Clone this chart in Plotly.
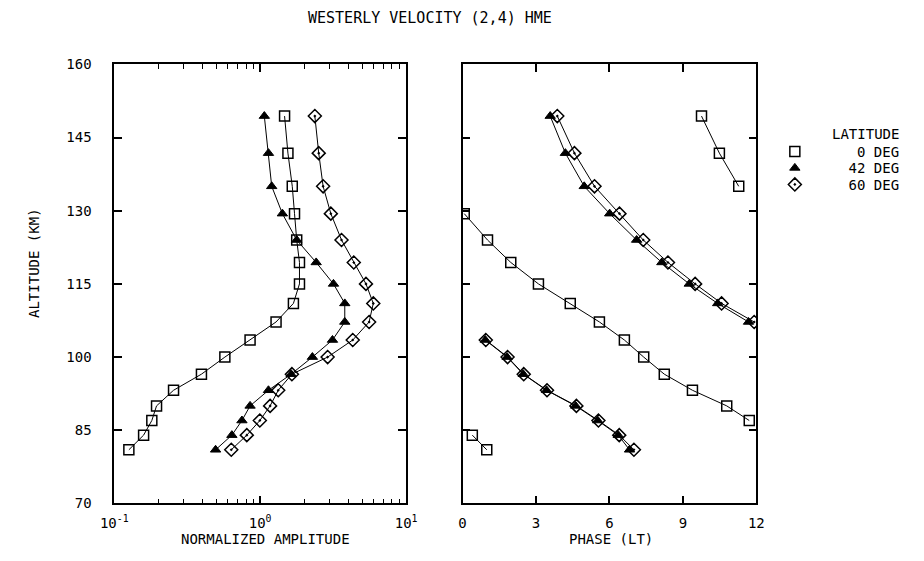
import plotly.graph_objects as go

# ---------------- data ----------------
altitude = [81, 84, 87, 90, 93.2, 96.5, 100, 103.5, 107.2, 111, 115, 119.4, 124, 129.4, 135, 141.8, 149.4]

amp_0 = [0.126, 0.159, 0.181, 0.195, 0.255, 0.396, 0.573, 0.853, 1.285, 1.69, 1.86, 1.86, 1.78, 1.72, 1.66, 1.55, 1.47]
amp_42 = [0.495, 0.64, 0.75, 0.853, 1.14, 1.63, 2.28, 3.13, 3.80, 3.80, 3.18, 2.42, 1.78, 1.42, 1.20, 1.14, 1.068]
amp_60 = [0.634, 0.81, 0.995, 1.17, 1.33, 1.65, 2.9, 4.31, 5.58, 5.96, 5.31, 4.38, 3.61, 3.05, 2.70, 2.52, 2.37]

phase_0 = [0.99, 0.40, 11.71, 10.79, 9.39, 8.24, 7.40, 6.61, 5.59, 4.40, 3.10, 1.97, 1.02, 0.07, 11.28, 10.49, 9.76]
phase_42 = [6.82, 6.36, 5.52, 4.62, 3.43, 2.48, 1.82, 0.93, 11.68, 10.42, 9.26, 8.14, 7.11, 6.01, 4.97, 4.20, 3.58]
phase_60 = [7.00, 6.40, 5.55, 4.65, 3.45, 2.50, 1.84, 0.95, 11.91, 10.58, 9.50, 8.39, 7.38, 6.41, 5.39, 4.57, 3.87]

latitude_labels = ["0 DEG", "42 DEG", "60 DEG"]
amp_tick_vals = [0.1, 1, 10]
amp_tick_text = ["10<sup>-1</sup>", "10<sup>0</sup>", "10<sup>1</sup>"]
alt_ticks = [70, 85, 100, 115, 130, 145, 160]
phase_ticks = [0, 3, 6, 9, 12]

FONT = "DejaVu Sans Mono"
W, H = 924, 561


def fx(x):
    return x / W


def fy(y):
    return 1 - y / H


def split_wrap(phase, alt):
    """Insert gaps where phase wraps around 0/12 LT."""
    xs, ys = [], []
    for i, (p, a) in enumerate(zip(phase, alt)):
        if i > 0 and abs(p - phase[i - 1]) > 6:
            xs.append(None)
            ys.append(None)
        xs.append(p)
        ys.append(a)
    return xs, ys


styles = [
    dict(symbol="square-open", size=10, line=dict(width=1.5, color="black"), color="black"),
    dict(symbol="triangle-up", size=9, line=dict(width=1, color="black"), color="black"),
    dict(symbol="diamond-open-dot", size=10, line=dict(width=1.5, color="black"), color="black"),
]

fig = go.Figure()
amps = [amp_0, amp_42, amp_60]
phases = [phase_0, phase_42, phase_60]
for amp, ph, st in zip(amps, phases, styles):
    fig.add_trace(go.Scatter(x=amp, y=altitude, mode="lines+markers", marker=st,
                             line=dict(color="black", width=1), showlegend=False,
                             xaxis="x", yaxis="y"))
    px, py = split_wrap(ph, altitude)
    fig.add_trace(go.Scatter(x=px, y=py, mode="lines+markers", marker=st,
                             line=dict(color="black", width=1), showlegend=False,
                             xaxis="x2", yaxis="y2", connectgaps=False))

# one legend box per latitude so that rows can be spaced like the original key
legend_ids = ["legend", "legend2", "legend3"]
pads = ["\u00a0" * 5, "\u00a0" * 4, "\u00a0" * 4]
for st, lab, pad, lid in zip(styles, latitude_labels, pads, legend_ids):
    fig.add_trace(go.Scatter(x=[None], y=[None], mode="markers", marker=st, name=pad + lab,
                             xaxis="x2", yaxis="y2", showlegend=True, legend=lid))

ydom = [fy(510), fy(58)]
common = dict(showline=True, linecolor="black", linewidth=1.5, ticks="inside",
              tickcolor="black", tickwidth=1.5, mirror="ticks", showgrid=False,
              zeroline=False, tickfont=dict(family=FONT, size=14, color="black"))

minor_vals = [m * 10 ** e for e in (-1, 0) for m in range(2, 10)]

row_y = [148, 165, 182]
legend_boxes = {}
for lid, ry in zip(legend_ids, row_y):
    legend_boxes[lid] = dict(x=fx(782), y=fy(ry), xanchor="left", yanchor="middle",
                             bgcolor="rgba(0,0,0,0)", font=dict(family=FONT, size=14),
                             itemwidth=30)

fig.update_layout(
    width=W, height=H,
    margin=dict(l=0, r=0, t=0, b=0),
    paper_bgcolor="white", plot_bgcolor="white",
    font=dict(family=FONT, size=14, color="black"),
    xaxis=dict(type="log", range=[-1, 1], domain=[fx(103), fx(403)], anchor="y",
               tickmode="array", tickvals=amp_tick_vals, ticktext=amp_tick_text, ticklen=8,
               ticklabelstandoff=6,
               minor=dict(ticks="inside", ticklen=5, tickcolor="black", tickwidth=1,
                          tickmode="array", tickvals=minor_vals, showgrid=False),
               **common),
    yaxis=dict(range=[70, 160], domain=ydom, anchor="x", tickmode="array",
               tickvals=alt_ticks, ticklen=8, ticklabelstandoff=18, **common),
    xaxis2=dict(range=[0, 12], domain=[fx(461), fx(763)], anchor="y2", tickmode="array",
                tickvals=phase_ticks, ticklen=8, ticklabelstandoff=6, **common),
    yaxis2=dict(range=[70, 160], domain=ydom, anchor="x2", tickmode="array",
                tickvals=alt_ticks, ticklen=8, showticklabels=False, **common),
    **legend_boxes,
    annotations=[
        dict(text="WESTERLY VELOCITY (2,4) HME", x=fx(428), y=fy(10), xref="paper",
             yref="paper", xanchor="center", yanchor="middle", showarrow=False,
             font=dict(family=FONT, size=15)),
        dict(text="LATITUDE", x=fx(912), y=fy(130), xref="paper",
             yref="paper", xanchor="right", yanchor="middle", showarrow=False,
             font=dict(family=FONT, size=14)),
        dict(text="NORMALIZED AMPLITUDE", x=fx(258), y=fy(547), xref="paper",
             yref="paper", xanchor="center", yanchor="middle", showarrow=False,
             font=dict(family=FONT, size=14)),
        dict(text="PHASE (LT)", x=fx(614), y=fy(547), xref="paper",
             yref="paper", xanchor="center", yanchor="middle", showarrow=False,
             font=dict(family=FONT, size=14)),
        dict(text="ALTITUDE (KM)", x=fx(20), y=fy(262), xref="paper",
             yref="paper", xanchor="center", yanchor="middle", showarrow=False,
             textangle=-90, font=dict(family=FONT, size=14)),
    ],
)

fig.write_html("out.html")
